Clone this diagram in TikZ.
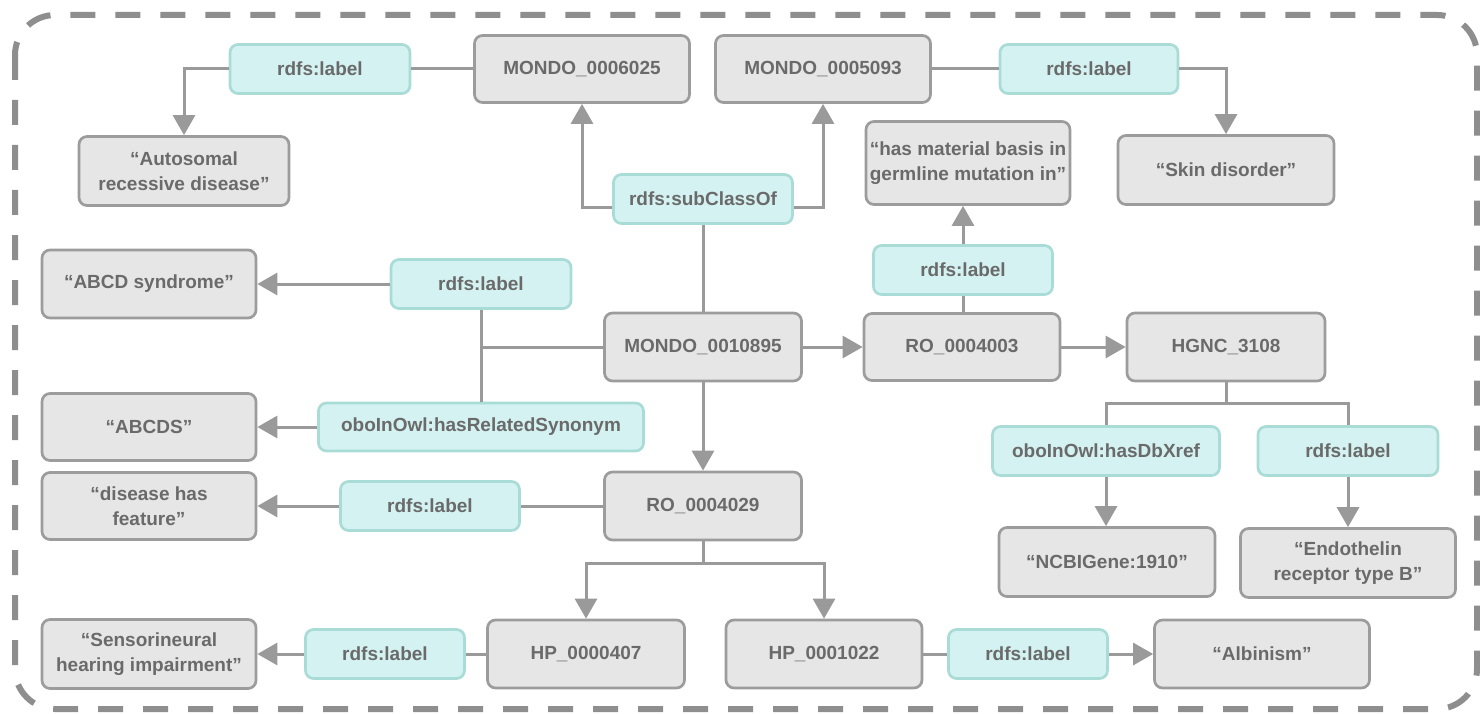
\documentclass[tikz,border=0pt]{standalone}
\usepackage{fontspec}
\setmainfont{Liberation Sans}
\usetikzlibrary{arrows.meta,calc}
\definecolor{boxfill}{HTML}{E6E6E6}
\definecolor{boxline}{HTML}{9C9C9C}
\definecolor{relfill}{HTML}{D3F2F1}
\definecolor{relline}{HTML}{A9DCD6}
\definecolor{txt}{HTML}{6A6A6A}
\definecolor{wire}{HTML}{9A9A9A}
\definecolor{frame}{HTML}{8E8E8E}
\tikzset{
  base/.style={rounded corners=8pt, line width=2.7pt, text=txt, align=center,
    inner sep=0pt, font=\fontsize{19}{25}\selectfont\bfseries},
  entity/.style={base, draw=boxline, fill=boxfill},
  relation/.style={base, draw=relline, fill=relfill},
  wireline/.style={draw=wire, line width=3pt},
  wirearrow/.style={wireline, -{Triangle[length=20pt,width=22pt]}},
}
\begin{document}
\begin{tikzpicture}[x=1pt,y=-1pt]
\useasboundingbox (0,0) rectangle (1480,714);
% outer dashed frame
\draw[frame, line width=6pt, dash pattern=on 25pt off 20pt, rounded corners=40pt]
  (15,15) rectangle (1477,709);

% top row
\node[relation, minimum width=180pt, minimum height=49pt] (labA1) at (320,69) {rdfs:label};
\node[entity, minimum width=215pt, minimum height=67pt] (m6025) at (582,69) {MONDO\_0006025};
\node[entity, minimum width=215pt, minimum height=67pt] (m5093) at (823,69) {MONDO\_0005093};
\node[relation, minimum width=178pt, minimum height=49pt] (labA2) at (1089,69) {rdfs:label};
\node[entity, minimum width=210pt, minimum height=69pt] (autosomal) at (184,171) {“Autosomal\\recessive disease”};
\node[entity, minimum width=216pt, minimum height=69pt] (skin) at (1226,170) {“Skin disorder”};
\node[relation, minimum width=179pt, minimum height=49pt] (subcls) at (703,199) {rdfs:subClassOf};
\node[entity, minimum width=204pt, minimum height=83pt] (hasmat) at (968,163) {“has material basis in\\germline mutation in”};
\node[relation, minimum width=179pt, minimum height=49pt] (labB) at (963,270) {rdfs:label};

% middle rows
\node[entity, minimum width=214pt, minimum height=68pt] (abcd) at (149,284) {“ABCD syndrome”};
\node[relation, minimum width=180pt, minimum height=49pt] (labC) at (481,284) {rdfs:label};
\node[entity, minimum width=197pt, minimum height=68pt] (m0895) at (703,347) {MONDO\_0010895};
\node[entity, minimum width=196pt, minimum height=67pt] (ro3) at (962,347) {RO\_0004003};
\node[entity, minimum width=198pt, minimum height=68pt] (hgnc) at (1226,347) {HGNC\_3108};
\node[entity, minimum width=214pt, minimum height=67pt] (abcds) at (149,427) {“ABCDS”};
\node[relation, minimum width=325pt, minimum height=48pt] (syn) at (481,427) {oboInOwl:hasRelatedSynonym};
\node[relation, minimum width=227pt, minimum height=49pt] (xref) at (1106,451) {oboInOwl:hasDbXref};
\node[relation, minimum width=180pt, minimum height=49pt] (labE) at (1348,451) {rdfs:label};
\node[entity, minimum width=214pt, minimum height=67pt] (feature) at (149,506) {“disease has\\feature”};
\node[relation, minimum width=179pt, minimum height=49pt] (labF) at (430,506) {rdfs:label};
\node[entity, minimum width=197pt, minimum height=68pt] (ro29) at (703,506) {RO\_0004029};
\node[entity, minimum width=216pt, minimum height=69pt] (ncbi) at (1107,562) {“NCBIGene:1910”};
\node[entity, minimum width=215pt, minimum height=69pt] (endo) at (1348,563) {“Endothelin\\receptor type B”};

% bottom row
\node[entity, minimum width=214pt, minimum height=69pt] (sens) at (149,654) {“Sensorineural\\hearing impairment”};
\node[relation, minimum width=159pt, minimum height=49pt] (labS) at (385,654) {rdfs:label};
\node[entity, minimum width=197pt, minimum height=68pt] (hp407) at (586,654) {HP\_0000407};
\node[entity, minimum width=196pt, minimum height=68pt] (hp22) at (824,654) {HP\_0001022};
\node[relation, minimum width=159pt, minimum height=49pt] (labAl) at (1028,654) {rdfs:label};
\node[entity, minimum width=215pt, minimum height=68pt] (albinism) at (1262,654) {“Albinism”};

% junction points
\coordinate (jL) at (481,347);
\coordinate (jR) at (703,563);
\coordinate (jG) at (1226,403);

% connectors: top
\draw[wireline] (m6025.west) -- (labA1.east);
\draw[wirearrow] (labA1.west) -| (autosomal.north);
\draw[wireline] (m5093.east) -- (labA2.west);
\draw[wirearrow] (labA2.east) -| (skin.north);
\draw[wireline] (subcls.south) -- (m0895.north);
\draw[wirearrow] ([yshift=-9pt]subcls.west) -| (m6025.south);
\draw[wirearrow] ([yshift=-9pt]subcls.east) -| (m5093.south);

% connectors: MONDO_0010895 to the right
\draw[wirearrow] (m0895.east) -- (ro3.west);
\draw[wireline] (ro3.north -| labB.south) -- (labB.south);
\draw[wirearrow] (labB.north) -- (labB.north |- hasmat.south);
\draw[wirearrow] (ro3.east) -- (hgnc.west);

% connectors: MONDO_0010895 to the left
\draw[wireline] (m0895.west) -- (jL);
\draw[wireline] (labC.south) -- (syn.north);
\draw[wirearrow] (labC.west) -- (abcd.east);
\draw[wirearrow] (syn.west) -- (abcds.east);

% connectors: RO_0004029
\draw[wirearrow] (m0895.south) -- (ro29.north);
\draw[wireline] (ro29.west) -- (labF.east);
\draw[wirearrow] (labF.west) -- (feature.east);
\draw[wireline] (ro29.south) -- (jR);
\draw[wirearrow] (jR) -| (hp407.north);
\draw[wirearrow] (jR) -| (hp22.north);

% connectors: bottom row
\draw[wireline] (hp407.west) -- (labS.east);
\draw[wirearrow] (labS.west) -- (sens.east);
\draw[wireline] (hp22.east) -- (labAl.west);
\draw[wirearrow] (labAl.east) -- (albinism.west);

% connectors: HGNC_3108
\draw[wireline] (hgnc.south) -- (jG);
\draw[wireline] (jG) -| (xref.north);
\draw[wireline] (jG) -| (labE.north);
\draw[wirearrow] (xref.south) -- (xref.south |- ncbi.north);
\draw[wirearrow] (labE.south) -- (endo.north);
\end{tikzpicture}
\end{document}
